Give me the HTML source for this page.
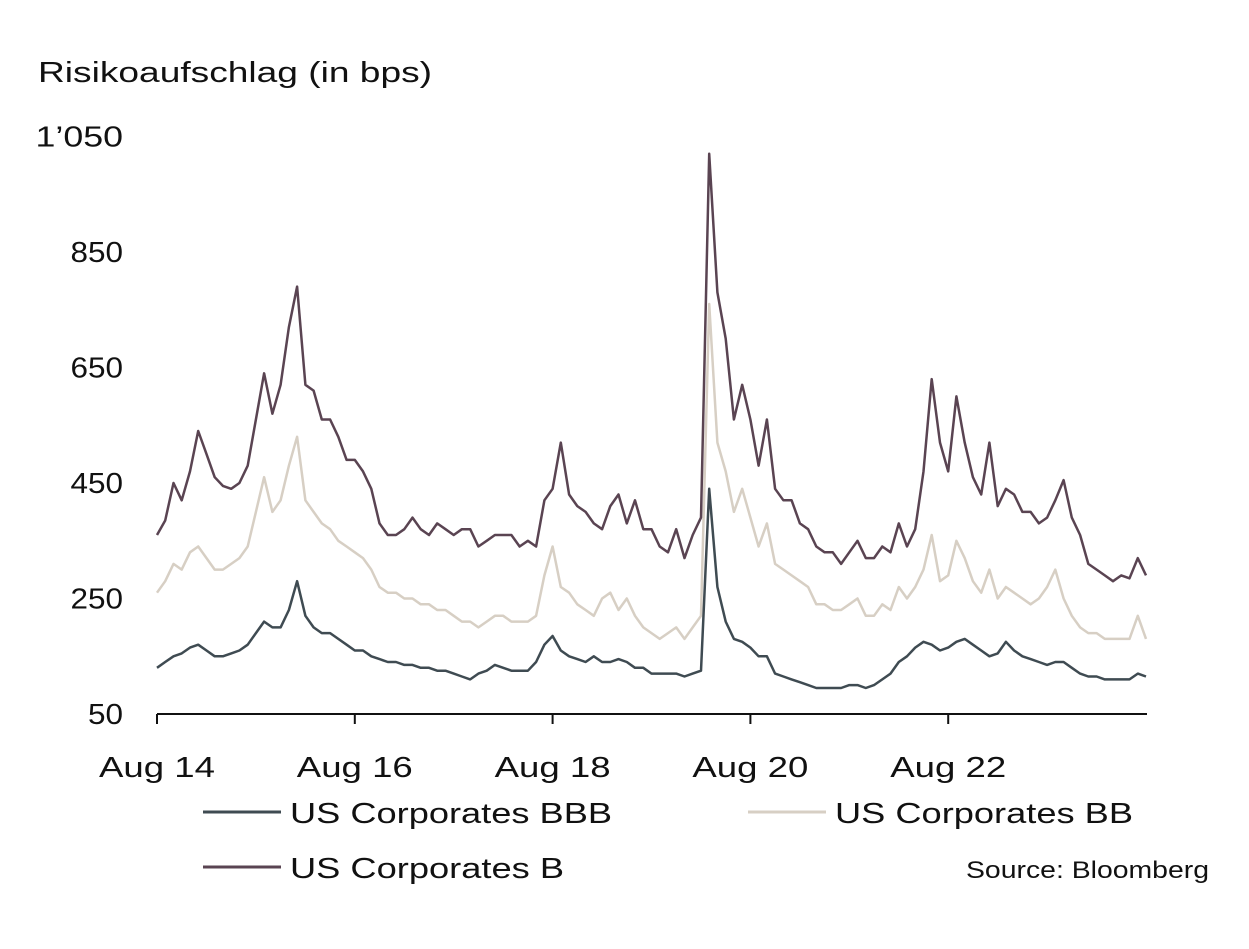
<!DOCTYPE html>
<html><head><meta charset="utf-8"><style>
body{margin:0;background:#fff;}
svg{display:block;font-family:"Liberation Sans",Arial,sans-serif;}
</style></head><body>
<svg width="1249" height="949" viewBox="0 0 1249 949">
<text x="38" y="82" font-size="29" fill="#111" textLength="394" lengthAdjust="spacingAndGlyphs">Risikoaufschlag (in bps)</text>
<g id="yt"></g>
<g id="xt"></g>
<g id="series"></g>
<g>
<line x1="203" y1="812" x2="281" y2="812" stroke="#3f4b52" stroke-width="3"/>
<text x="290" y="823" font-size="29" fill="#111" textLength="322" lengthAdjust="spacingAndGlyphs">US Corporates BBB</text>
<line x1="748" y1="812" x2="826" y2="812" stroke="#d7cfc4" stroke-width="3"/>
<text x="835" y="823" font-size="29" fill="#111" textLength="298" lengthAdjust="spacingAndGlyphs">US Corporates BB</text>
<line x1="203" y1="867" x2="281" y2="867" stroke="#5a4452" stroke-width="3"/>
<text x="290" y="878" font-size="29" fill="#111" textLength="274" lengthAdjust="spacingAndGlyphs">US Corporates B</text>
</g>
<text x="966" y="878" font-size="24" fill="#111" textLength="243" lengthAdjust="spacingAndGlyphs">Source: Bloomberg</text>
</svg>
<script>
const yTicks=[50,250,450,650,850,1050];
const yTickLabels=["50","250","450","650","850","1’050"];
const xTickMonths=[0,24,48,72,96];
const xTickLabels=["Aug 14","Aug 16","Aug 18","Aug 20","Aug 22"];
const seriesB=[360,385,450,420,470,540,500,460,445,440,450,480,560,640,570,620,720,790,620,610,560,560,530,490,490,470,440,380,360,360,370,390,370,360,380,370,360,370,370,340,350,360,360,360,340,350,340,420,440,520,430,410,400,380,370,410,430,380,420,370,370,340,330,370,320,360,390,1020,780,700,560,620,560,480,560,440,420,420,380,370,340,330,330,310,330,350,320,320,340,330,380,340,370,470,630,520,470,600,520,460,430,520,410,440,430,400,400,380,390,420,455,390,360,310,300,290,280,290,285,320,290];
const seriesBB=[260,280,310,300,330,340,320,300,300,310,320,340,400,460,400,420,480,530,420,400,380,370,350,340,330,320,300,270,260,260,250,250,240,240,230,230,220,210,210,200,210,220,220,210,210,210,220,290,340,270,260,240,230,220,250,260,230,250,220,200,190,180,190,200,180,200,220,760,520,470,400,440,390,340,380,310,300,290,280,270,240,240,230,230,240,250,220,220,240,230,270,250,270,300,360,280,290,350,320,280,260,300,250,270,260,250,240,250,270,300,250,220,200,190,190,180,180,180,180,220,180];
const seriesBBB=[130,140,150,155,165,170,160,150,150,155,160,170,190,210,200,200,230,280,220,200,190,190,180,170,160,160,150,145,140,140,135,135,130,130,125,125,120,115,110,120,125,135,130,125,125,125,140,170,185,160,150,145,140,150,140,140,145,140,130,130,120,120,120,120,115,120,125,440,270,210,180,175,165,150,150,120,115,110,105,100,95,95,95,95,100,100,95,100,110,120,140,150,165,175,170,160,165,175,180,170,160,150,155,175,160,150,145,140,135,140,140,130,120,115,115,110,110,110,110,120,115];
const NS="http://www.w3.org/2000/svg";
const X0=157,MPX=8.2417,Y0=714,YS=0.5775;
function xs(m){return X0+m*MPX;}
function ys(v){return Y0-(v-50)*YS;}
const yt=document.getElementById('yt'),xt=document.getElementById('xt'),sg=document.getElementById('series');
yTicks.forEach((v,i)=>{const t=document.createElementNS(NS,'text');


t.setAttribute('x',123);t.setAttribute('y',ys(v)+10);t.setAttribute('text-anchor','end');t.setAttribute('font-size','29');t.setAttribute('fill','#111');
t.setAttribute('textLength',yTickLabels[i].length*17.5);t.setAttribute('lengthAdjust','spacingAndGlyphs');
t.textContent=yTickLabels[i];yt.appendChild(t);});
const ax=document.createElementNS(NS,'line');


ax.setAttribute('x1',X0);ax.setAttribute('x2',1147);ax.setAttribute('y1',Y0);ax.setAttribute('y2',Y0);ax.setAttribute('stroke','#111');ax.setAttribute('stroke-width','2');xt.appendChild(ax);
xTickMonths.forEach((m,i)=>{const l=document.createElementNS(NS,'line');


l.setAttribute('x1',xs(m));l.setAttribute('x2',xs(m));l.setAttribute('y1',Y0);l.setAttribute('y2',Y0+10);l.setAttribute('stroke','#111');l.setAttribute('stroke-width','2');xt.appendChild(l);
const t=document.createElementNS(NS,'text');


t.setAttribute('x',xs(m));t.setAttribute('y',777);t.setAttribute('text-anchor','middle');t.setAttribute('font-size','29');t.setAttribute('fill','#111');
t.setAttribute('textLength','116');t.setAttribute('lengthAdjust','spacingAndGlyphs');
t.textContent=xTickLabels[i];xt.appendChild(t);});
function draw(arr,color,name){const p=document.createElementNS(NS,'polyline');


const n=arr.length-1;p.setAttribute('points',arr.map((v,i)=>xs(i*120/n).toFixed(1)+','+ys(v).toFixed(1)).join(' '));
p.setAttribute('fill','none');p.setAttribute('stroke',color);p.setAttribute('stroke-width','2.5');p.setAttribute('stroke-linejoin','round');sg.appendChild(p);}
draw(seriesBB,'#d7cfc4','series-bb-line');
draw(seriesBBB,'#3f4b52','series-bbb-line');
draw(seriesB,'#5a4452','series-b-line');
</script>
</body></html>
